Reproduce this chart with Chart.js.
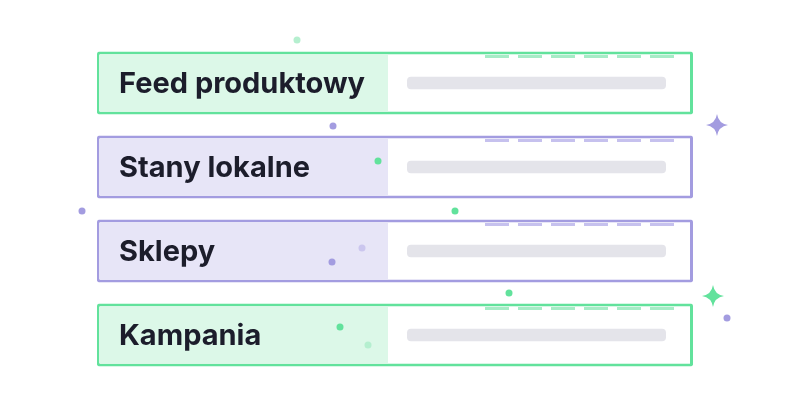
<!DOCTYPE html>
<html><head><meta charset="utf-8">
<script src="https://cdn.jsdelivr.net/npm/chart.js@4"></script>
<style>html,body{margin:0;background:#fff}#wrap{width:800px;height:420px}</style>
</head><body><div id="wrap"><canvas id="c"></canvas></div>
<script>
// rows of the illustration
const rows = ['Feed produktowy', 'Stany lokalne', 'Sklepy', 'Kampania'];
const rowKind = ['green', 'purple', 'purple', 'green'];
const frameRange = [97, 693];
const labelRange = [99, 388];
const fieldRange = [407, 666];

// decorative dots and sparkles
const dotsX = [297, 333, 378, 82, 455, 362, 332, 509, 727, 340, 368, 275];
const dotsY = [40, 126, 161, 211, 211, 248, 262, 293, 318, 327, 345, 381];
const dotsKind = ['lgreen', 'purple', 'green', 'purple', 'green', 'lpurple', 'purple', 'green', 'purple', 'green', 'lgreen', 'purple'];
const sparkX = [277, 717, 713, 242];
const sparkY = [26, 125, 296, 386];
const sparkKind = ['green', 'purple', 'green', 'purple'];

const col = {
  green: { line: '#62e29c', tint: '#dcf8e8', stripe: '#a6ecc6' },
  purple: { line: '#a39ce0', tint: '#e7e5f7', stripe: '#c6c1ee' },
  lgreen: '#b5efcf', lpurple: '#cbc6ee'
};
const dotColor = k => k === 'green' ? col.green.line : k === 'purple' ? col.purple.line : col[k];

function sparkle(color) {
  const c = document.createElement('canvas');
  c.width = c.height = 22;
  const g = c.getContext('2d');
  g.fillStyle = color;
  g.beginPath();
  g.moveTo(11, 0);
  g.quadraticCurveTo(12.5, 9.5, 22, 11);
  g.quadraticCurveTo(12.5, 12.5, 11, 22);
  g.quadraticCurveTo(9.5, 12.5, 0, 11);
  g.quadraticCurveTo(9.5, 9.5, 11, 0);
  g.fill();
  return c;
}

const rowLabels = {
  id: 'rowLabels',
  afterDatasetsDraw(chart) {
    const ctx = chart.ctx;
    const meta = chart.getDatasetMeta(0);
    ctx.save();
    ctx.font = 'bold 29px Inter, "Noto Sans", sans-serif';
    ctx.fillStyle = '#1c1d2b';
    ctx.textBaseline = 'middle';
    meta.data.forEach((bar, i) => {
      ctx.fillText(rows[i], 119, bar.y + 1);
      // stripe accents on top edge
      ctx.strokeStyle = col[rowKind[i]].stripe;
      ctx.lineWidth = 3;
      const top = bar.y - bar.height / 2;
      for (let k = 0; k < 6; k++) {
        const x0 = 485 + k * 33;
        ctx.beginPath();
        ctx.moveTo(x0, top + 5); ctx.lineTo(x0 + 24, top + 5);
        ctx.stroke();
      }
    });
    ctx.restore();
  }
};

new Chart(document.getElementById('c'), {
  data: {
    labels: rows,
    datasets: [
      {
        type: 'bar', grouped: false, order: 3,
        data: rows.map(() => frameRange),
        backgroundColor: '#ffffff',
        borderColor: rowKind.map(k => col[k].line),
        borderWidth: 3, borderSkipped: false, borderRadius: 2,
        barPercentage: 0.75, categoryPercentage: 1
      },
      {
        type: 'bar', grouped: false, order: 2,
        data: rows.map(() => labelRange),
        backgroundColor: rowKind.map(k => col[k].tint),
        barPercentage: 0.68, categoryPercentage: 1
      },
      {
        type: 'bar', grouped: false, order: 1,
        data: rows.map(() => fieldRange),
        backgroundColor: '#e4e4ea', borderRadius: 4, borderSkipped: false,
        barPercentage: 0.15, categoryPercentage: 1
      },
      {
        type: 'scatter', yAxisID: 'y2', order: 0, clip: false,
        data: dotsX.map((x, i) => ({ x, y: dotsY[i] })),
        pointRadius: 3.5, pointBorderWidth: 0,
        pointBackgroundColor: dotsKind.map(dotColor)
      },
      {
        type: 'scatter', yAxisID: 'y2', order: 0, clip: false,
        data: sparkX.map((x, i) => ({ x, y: sparkY[i] })),
        pointStyle: sparkKind.map(k => sparkle(dotColor(k)))
      }
    ]
  },
  options: {
    indexAxis: 'y',
    responsive: true, maintainAspectRatio: false, animation: false,
    layout: { autoPadding: false, padding: { top: 41, bottom: 43, left: 0, right: 0 } },
    plugins: { legend: { display: false }, tooltip: { enabled: false } },
    scales: {
      x: { type: 'linear', min: 0, max: 800, display: false },
      y: { type: 'category', display: false },
      y2: { type: 'linear', min: 41, max: 377, reverse: true, display: false }
    }
  },
  plugins: [rowLabels]
});
</script>
</body></html>
